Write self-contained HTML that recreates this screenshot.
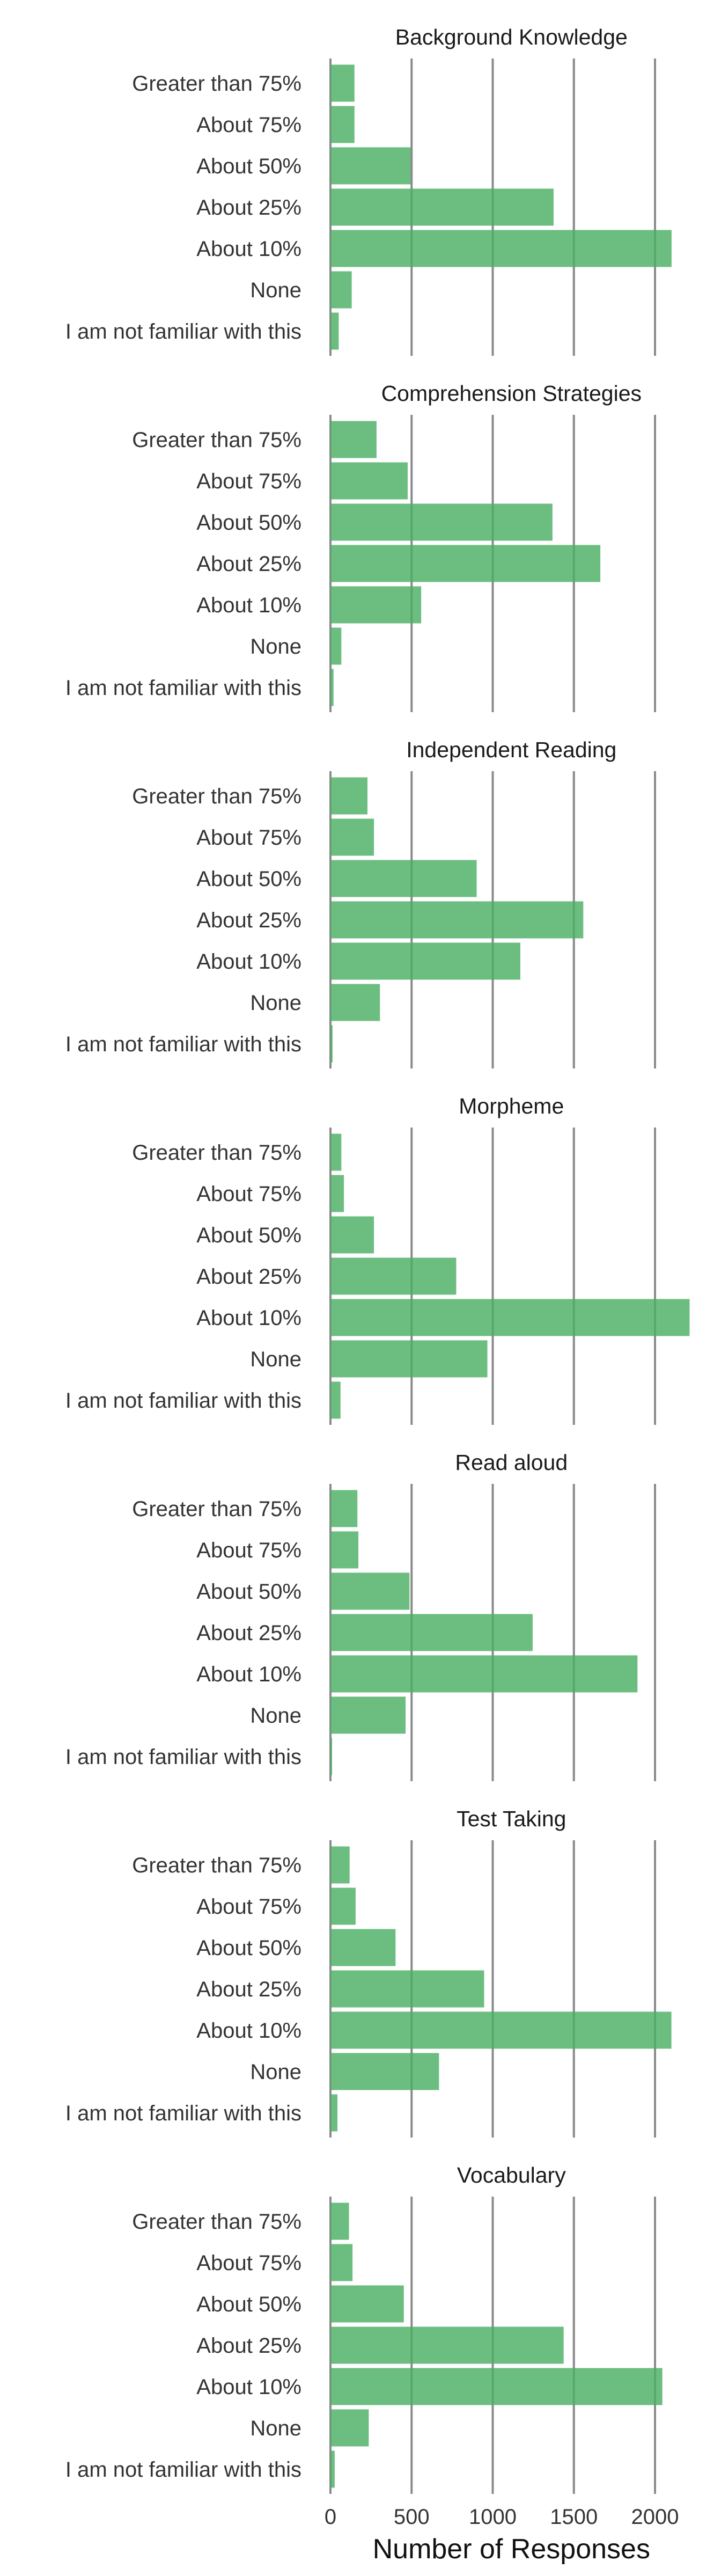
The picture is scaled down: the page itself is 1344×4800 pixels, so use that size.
<!DOCTYPE html>
<html><head><meta charset="utf-8"><style>
html,body{margin:0;padding:0;background:#fff;}
svg{display:block;font-family:"Liberation Sans",Arial,sans-serif;}
</style></head><body>
<svg id="chart" width="1344" height="4800" viewBox="0 0 1344 4800" xmlns="http://www.w3.org/2000/svg"></svg>
<script>
const panelTitles = ["Background Knowledge","Comprehension Strategies","Independent Reading","Morpheme","Read aloud","Test Taking","Vocabulary"];
const categories = ["Greater than 75%","About 75%","About 50%","About 25%","About 10%","None","I am not familiar with this"];
const bkValues = [148,148,494,1375,2102,131,51];
const csValues = [284,476,1368,1663,559,67,19];
const irValues = [228,268,901,1558,1170,305,13];
const moValues = [67,83,268,775,2213,967,62];
const raValues = [166,172,487,1246,1892,463,10];
const ttValues = [118,155,401,947,2101,669,43];
const voValues = [114,136,452,1437,2045,236,26];
const xTicks = [0,500,1000,1500,2000];
const xTickLabels = ["0","500","1000","1500","2000"];

const allValues = [bkValues,csValues,irValues,moValues,raValues,ttValues,voValues];
const NS = "http://www.w3.org/2000/svg";
const svg = document.getElementById("chart");
const X0 = 616, PXU = 0.3025, XMAX = 2230;
const PANEL_TOP = 109, PANEL_PITCH = 664, PANEL_H = 554, ROW = 77, BAR_H = 69, BAR_OFF = 11.5;
function xScale(v){ return X0 + v * PXU; }
function yRow(p, k){ return PANEL_TOP + p * PANEL_PITCH + BAR_OFF + k * ROW; }
function mk(tag, attrs){ const e = document.createElementNS(NS, tag); for (const k in attrs) e.setAttribute(k, attrs[k]); return e; }

allValues.forEach((vals, p) => {
  const top = PANEL_TOP + p * PANEL_PITCH;
  const g = mk("g", {});
  
  
  svg.appendChild(g);
  const t = mk("text", {x: (X0 + xScale(XMAX)) / 2, y: top - 26, "text-anchor": "middle", "font-size": 41, fill: "#1a1a1a"});
  t.textContent = panelTitles[p];
  
  
  g.appendChild(t);
  xTicks.forEach(v => {
    const l = mk("line", {x1: xScale(v), x2: xScale(v), y1: top, y2: top + PANEL_H, stroke: "#8a8a8a", "stroke-width": 4});
    
    
    g.appendChild(l);
  });
  vals.forEach((v, k) => {
    const y = yRow(p, k);
    const r = mk("rect", {x: X0, y: y, width: Math.max(0, xScale(v) - X0), height: BAR_H, fill: "rgb(76,175,100)", "fill-opacity": 0.82});
    
    
    g.appendChild(r);
    const lb = mk("text", {x: 562, y: y + BAR_H / 2 + 14, "text-anchor": "end", "font-size": 40, fill: "#333"});
    lb.textContent = categories[k];
    
    
    g.appendChild(lb);
  });
});
const lastBottom = PANEL_TOP + 6 * PANEL_PITCH + PANEL_H;
xTicks.forEach((v, i) => {
  const t = mk("text", {x: xScale(v), y: lastBottom + 56, "text-anchor": "middle", "font-size": 40, fill: "#333"});
  t.textContent = xTickLabels[i];
  
  
  svg.appendChild(t);
});
const xt = mk("text", {x: (X0 + xScale(XMAX)) / 2, y: lastBottom + 120, "text-anchor": "middle", "font-size": 52, fill: "#111"});
xt.textContent = "Number of Responses";


svg.appendChild(xt);
</script>
</body></html>
